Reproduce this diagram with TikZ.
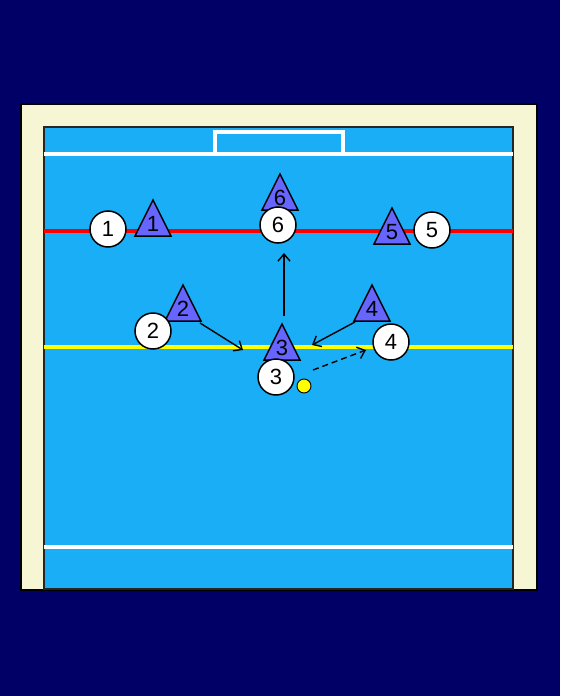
\documentclass[tikz,border=0pt]{standalone}
\usepackage{fontspec}
\setmainfont{Liberation Sans}
\usetikzlibrary{arrows.meta}
\definecolor{navy}{RGB}{0,0,102}
\definecolor{cream}{RGB}{246,246,212}
\definecolor{pool}{RGB}{26,174,246}
\definecolor{tri}{RGB}{102,102,255}
\definecolor{ballc}{RGB}{255,255,0}
\tikzset{
  player/.style={circle,draw=black,line width=1.5pt,fill=white,minimum size=36pt,inner sep=0pt,font=\fontsize{22}{22}\selectfont},
  deflab/.style={inner sep=0pt,font=\fontsize{22}{22}\selectfont},
  trishape/.style={draw=black,line width=1.5pt,fill=tri,line join=miter},
  move/.style={line width=1.4pt,-{Straight Barb[length=7pt,width=12pt]}},
  pass/.style={move,dash pattern=on 6pt off 4pt},
  whiteline/.style={white,line width=3.5pt}
}
\newcommand\defender[4]{% name, apex x, base y, text
  \draw[trishape] (#2-18,#3) -- (#2,#3-36) -- (#2+18,#3) -- cycle;
  \node[deflab] (#1) at (#2,#3-12) {#4};
}
\begin{document}
\begin{tikzpicture}[x=1pt,y=-1pt]
\useasboundingbox (0,0) rectangle (560,696);
\fill[navy] (0,0) rectangle (560,696);
\draw[fill=cream,draw=black,line width=2pt] (21,104) rectangle (537,590);
\draw[fill=pool,draw=black!85,line width=1.6pt] (44,127) rectangle (513,589);
% lines
\draw[whiteline] (44,154) -- (513,154);
\draw[whiteline] (215,154) -- (215,132) -- (343,132) -- (343,154);
\draw[whiteline] (44,547) -- (513,547);
\draw[red,line width=4.5pt] (44,231) -- (513,231);
\draw[ballc,line width=3.5pt] (44,347) -- (513,347);
% defenders
\defender{d1}{153}{236}{1}
\defender{d6}{280}{210}{6}
\defender{d5}{392}{244}{5}
\defender{d2}{183}{321}{2}
\defender{d3}{282}{360}{3}
\defender{d4}{372}{321}{4}
% players
\node[player] (p1) at (108,229) {1};
\node[player] (p6) at (278,225) {6};
\node[player] (p5) at (432,230) {5};
\node[player] (p2) at (153,331) {2};
\node[player] (p3) at (276,377) {3};
\node[player] (p4) at (391,342) {4};
\node[circle,draw=black,line width=0.9pt,fill=ballc,minimum size=14pt,inner sep=0pt] (ball) at (304,386) {};
% movements
\coordinate (a2s) at (200,323); \coordinate (a2e) at (243,350);
\coordinate (a3s) at (284,316); \coordinate (a3e) at (284,253);
\coordinate (a4s) at (355,322); \coordinate (a4e) at (312,345);
\coordinate (bs) at (313,370); \coordinate (be) at (366,350);
\draw[move] (a2s) -- (a2e);
\draw[move] (a3s) -- (a3e);
\draw[move] (a4s) -- (a4e);
\draw[pass] (bs) -- (be);
\end{tikzpicture}
\end{document}
